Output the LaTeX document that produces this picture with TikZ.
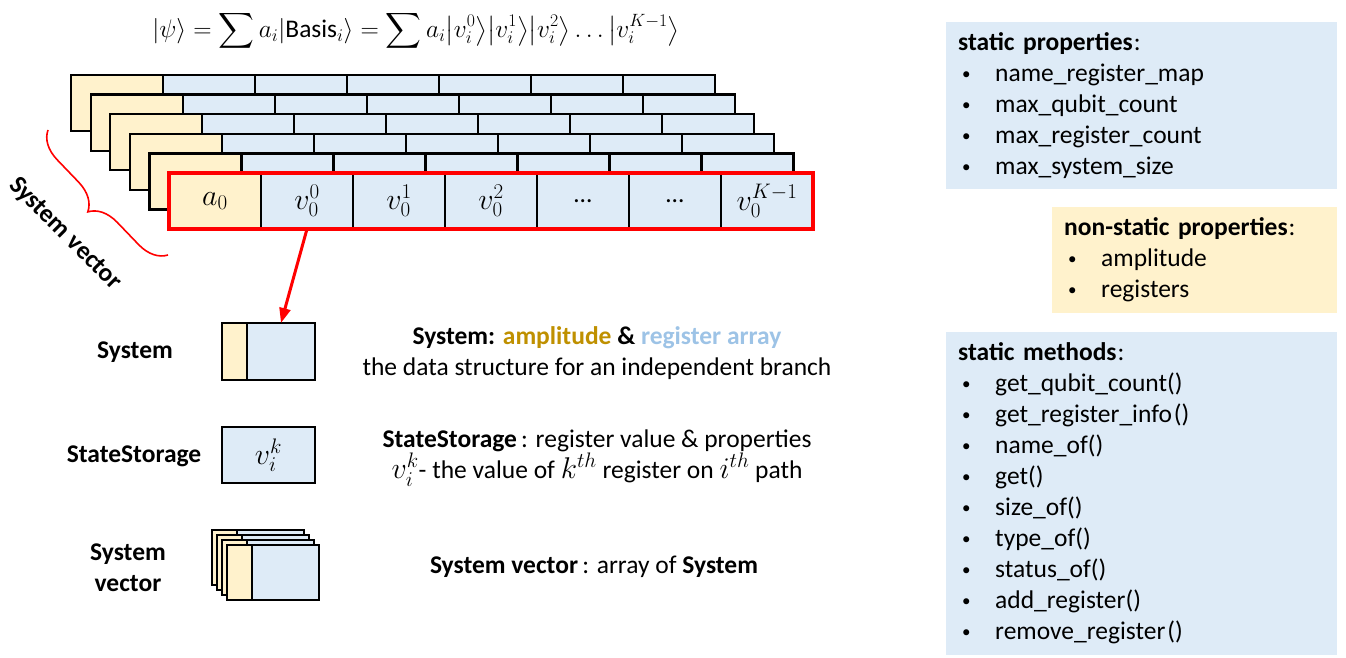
\RequirePackage{fix-cm}
\documentclass[tikz,border=0pt]{standalone}
\usepackage{amsmath}
\usepackage{fontspec}
\setmainfont{Carlito}
\usepackage{tikz}
\usetikzlibrary{positioning, arrows.meta, decorations.pathreplacing}
\DeclareMathSizes{25.5}{30}{21}{16}
\definecolor{ampyellow}{HTML}{FFF2CC}
\definecolor{regblue}{HTML}{DEEBF7}
\definecolor{ampgold}{HTML}{BF9000}
\definecolor{reglight}{HTML}{9DC3E6}
\newcommand{\bitem}[1]{\makebox[37pt][l]{\hspace{4pt}\raisebox{2.5pt}{\fontsize{17}{17}\selectfont\textbullet}}#1}
\tikzstyle{cell} = [draw=black, line width=2.2pt, rectangle, inner sep=0pt, outer sep=0pt, minimum width=92pt, minimum height=56pt, anchor=north west]
\tikzstyle{ampcell} = [cell, fill=ampyellow]
\tikzstyle{regcell} = [cell, fill=regblue]
\tikzstyle{panel} = [rectangle, anchor=north west, inner xsep=12pt, inner ysep=0pt, align=left]
\tikzstyle{redarrow} = [red, line width=3pt, -{Triangle[length=15pt, width=11pt]}]

\begin{document}
\begin{tikzpicture}[x=1pt, y=-1pt]
		\fontsize{25.5}{31}\selectfont
		\useasboundingbox (0,0) rectangle (1346,658);
		\node[font=\fontsize{25.4}{31}\selectfont] (psi) at (416,31) {$|\psi\rangle = \displaystyle\sum a_i|\mathrm{Basis}_i\rangle = \sum a_i\bigl|v_i^0\bigr\rangle\bigl|v_i^1\bigr\rangle\bigl|v_i^2\bigr\rangle \ldots \bigl|v_i^{K-1}\bigr\rangle$};
		\foreach \k in {0,...,4}{
			\node[ampcell] (back\k) at (71+19.6*\k, 75+19.6*\k) {};
			\foreach \j in {1,...,6}
				\node[regcell] at (71+19.6*\k+92*\j, 75+19.6*\k) {};
		}
		\node[ampcell] (f0) at (169,173) {$a_0$};
		\node[regcell] (f1) at (f0.north east) {$v_0^0$};
		\node[regcell] (f2) at (f1.north east) {$v_0^1$};
		\node[regcell] (f3) at (f2.north east) {$v_0^2$};
		\node[regcell] (f4) at (f3.north east) {\dots};
		\node[regcell] (f5) at (f4.north east) {\dots};
		\node[regcell] (f6) at (f5.north east) {$v_0^{K-1}$};
		\draw[red, line width=3.5pt] (f0.north west) rectangle (f6.south east);
		\coordinate (bracestart) at (168,255);
		\coordinate (braceend) at (48,130);
		\draw[red, line width=1.6pt, decorate, decoration={brace, amplitude=28pt}] (bracestart) -- (braceend);
		\node[rotate=-45, font=\bfseries] (svlabel) at (65,234) {System vector};

		\node[ampcell, minimum width=25pt, minimum height=57pt] (sysamp) at (222,323) {};
		\node[regcell, minimum width=68pt, minimum height=57pt] (sysreg) at (sysamp.north east) {};
		\draw[redarrow] (f1.south) -- (sysreg.north);
		\node[font=\bfseries] (syslabel) at (135,352) {System};
		\node[align=center] (sysdesc) at (597,353) {\textbf{System: \textcolor{ampgold}{amplitude} \& \textcolor{reglight}{register array}}\\the data structure for an independent branch};

		\node[regcell, minimum width=93pt] (ssbox) at (222,427) {$v_i^k$};
		\node[font=\bfseries] (sslabel) at (134,456) {StateStorage};
		\node[align=center] (ssdesc) at (597,458) {\textbf{StateStorage}\,: register value \& properties\\$v_i^k$- the value of $k^{th}$ register on $i^{th}$ path};

		\foreach \k in {0,...,3}{
			\node[ampcell, minimum width=25pt, minimum height=55pt] (svamp\k) at (212+4.9*\k, 530+5*\k) {};
			\node[regcell, minimum width=67pt, minimum height=55pt] (svreg\k) at (svamp\k.north east) {};
		}
		\node[font=\bfseries, align=center] (svlabel2) at (128,568) {System\\vector};
		\node (svdesc) at (594,567) {\textbf{System vector}\,: array of \textbf{System}};

		\node[panel, fill=regblue, text width=367pt, minimum height=167pt] (staticprops) at (946,22) {\textbf{static properties}\hspace{1pt}:\\
			\bitem{name\_register\_map}\\
			\bitem{max\_qubit\_count}\\
			\bitem{max\_register\_count}\\
			\bitem{max\_system\_size}};
		\node[panel, fill=ampyellow, text width=261pt, minimum height=106pt] (nonstatic) at (1052,207) {\textbf{non-static properties}\hspace{1pt}:\\
			\bitem{amplitude}\\
			\bitem{registers}};
		\node[panel, fill=regblue, text width=367pt, minimum height=323pt] (staticmeth) at (946,332) {\textbf{static methods}\hspace{1pt}:\\
			\bitem{get\_qubit\_count()}\\
			\bitem{get\_register\_info\hspace{2pt}()}\\
			\bitem{name\_of()}\\
			\bitem{get()}\\
			\bitem{size\_of()}\\
			\bitem{type\_of()}\\
			\bitem{status\_of()}\\
			\bitem{add\_register()}\\
			\bitem{remove\_register\hspace{2pt}()}};
	\end{tikzpicture}
\end{document}
